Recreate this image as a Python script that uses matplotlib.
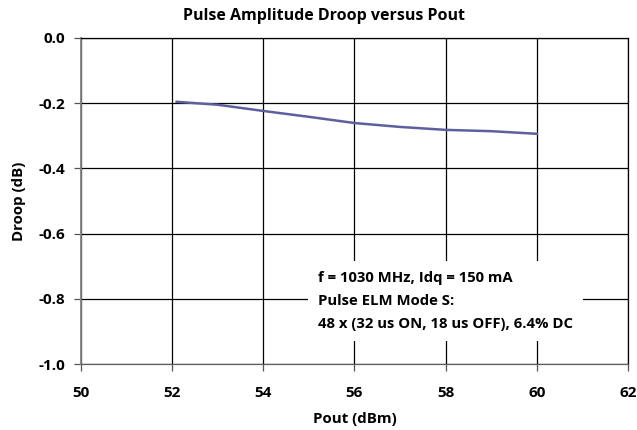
import matplotlib.pyplot as plt

# Data
pout = [52.1, 53.0, 54.0, 55.0, 56.0, 57.0, 58.0, 59.0, 60.0]
droop = [-0.196, -0.205, -0.224, -0.242, -0.261, -0.273, -0.282, -0.286, -0.294]

x_ticks = [50, 52, 54, 56, 58, 60, 62]
y_ticks = [0.0, -0.2, -0.4, -0.6, -0.8, -1.0]

note = "f = 1030 MHz, Idq = 150 mA\nPulse ELM Mode S:\n48 x (32 us ON, 18 us OFF), 6.4% DC"

plt.rcParams['font.family'] = ['Open Sans', 'DejaVu Sans']
plt.rcParams['font.weight'] = 'bold'

fig = plt.figure(figsize=(6.37, 4.30), dpi=100)
ax = fig.add_axes([0.127, 0.153, 0.859, 0.759])

ax.plot(pout, droop, color="#5d5f9e", linewidth=1.8)

ax.set_xlim(50, 62)
ax.set_ylim(-1.0, 0.0)
ax.set_xticks(x_ticks)
ax.set_yticks(y_ticks)
ax.set_xticklabels([str(v) for v in x_ticks], fontsize=11, fontweight='bold')
ax.set_yticklabels(["%.1f" % v for v in y_ticks], fontsize=11, fontweight='bold')
ax.grid(True, color="black", linewidth=0.9)
ax.tick_params(direction="out", length=5, width=0.9, color="#555555")
ax.tick_params(axis='x', pad=11)
ax.tick_params(axis='y', pad=6)
for s in ax.spines.values():
    s.set_color("black")
    s.set_linewidth(0.9)
ax.spines['left'].set_color("#808080")
ax.spines['left'].set_linewidth(1.3)
ax.spines['bottom'].set_color("#606060")

ax.set_title("Pulse Amplitude Droop versus Pout", fontsize=11.5, fontweight='bold',
             x=0.444, pad=13)
ax.set_xlabel("Pout (dBm)", fontsize=10.8, fontweight='bold', labelpad=8)
ax.set_ylabel("Droop (dB)", fontsize=10.8, fontweight='bold', labelpad=9)

ax.text(55.2, -0.807, note, fontsize=10.75, fontweight='bold', va='center', ha='left',
        linespacing=1.84,
        bbox=dict(facecolor='white', edgecolor='none', pad=7))

fig.savefig("out.png", dpi=100)
